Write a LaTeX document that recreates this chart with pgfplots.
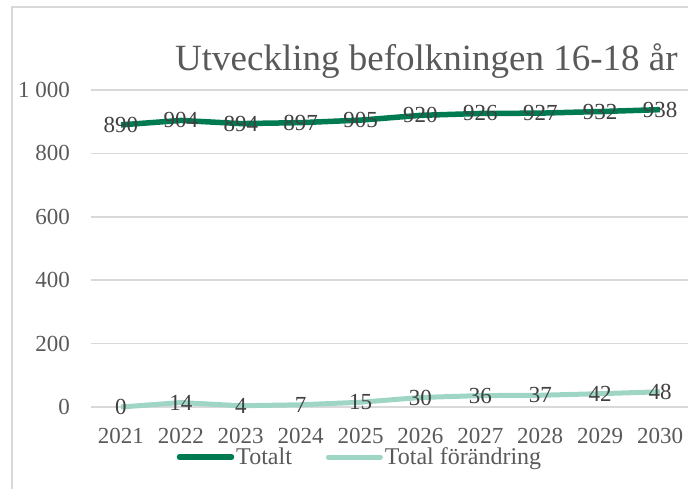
\documentclass[border=0pt]{standalone}
\usepackage{pgfplots}
\pgfplotsset{compat=1.18}
\usepackage{fontspec}
\setmainfont{Liberation Serif}
\definecolor{darkgreen}{RGB}{0,122,80}
\definecolor{lightgreen}{RGB}{158,213,197}
\definecolor{txtgray}{RGB}{89,89,89}
\definecolor{lblgray}{RGB}{64,64,64}
\definecolor{gridgray}{RGB}{217,217,217}
\begin{document}
\begin{tikzpicture}
\useasboundingbox (0pt,0pt) rectangle (688pt,488pt);
% chart frame (right and bottom edges lie outside the picture)
\draw[gridgray, line width=1.5pt] (12pt,-5pt) -- (12pt,481pt) -- (700pt,481pt);
\node[anchor=base west, text=txtgray, font=\fontsize{37}{44}\selectfont, inner sep=0pt]
  at (175pt,417pt) {Utveckling befolkningen 16-18 år};
\begin{axis}[
  at={(91pt,81pt)}, anchor=south west,
  scale only axis, width=599pt, height=317pt,
  xmin=2020.5, xmax=2030.5, ymin=0, ymax=1000,
  xtick={2021,...,2030},
  xticklabels={2021,2022,2023,2024,2025,2026,2027,2028,2029,2030},
  ytick={0,200,400,600,800,1000},
  yticklabels={0,200,400,600,800,1 000},
  /pgf/number format/assume math mode=true,
  axis line style={draw=none},
  tick style={draw=none},
  ymajorgrids,
  major grid style={gridgray, line width=1.5pt},
  ticklabel style={font=\fontsize{23}{27}\selectfont, text=txtgray, inner sep=0pt},
  yticklabel style={anchor=east, xshift=-21pt},
  xticklabel style={anchor=north, yshift=-21pt},
  clip=false,
  nodes near coords,
  every node near coord/.append style={anchor=center, font=\fontsize{23}{27}\selectfont, text=lblgray, inner sep=0pt},
  legend columns=2,
  legend style={at={(0.449,-0.158)}, anchor=center, draw=none, fill=none,
    font=\fontsize{24}{27}\selectfont, text=txtgray,
    /tikz/every even column/.append style={column sep=32pt},
    nodes={inner sep=2pt}},
  legend image code/.code={\draw[#1, line cap=round] (0pt,0pt) -- (52pt,0pt);},
]
\addplot[darkgreen, line width=5.5pt, line join=round] coordinates {
  (2021,890) (2022,904) (2023,894) (2024,897) (2025,905)
  (2026,920) (2027,926) (2028,927) (2029,932) (2030,938)
};
\addplot[lightgreen, line width=5pt, line join=round] coordinates {
  (2021,0) (2022,14) (2023,4) (2024,7) (2025,15)
  (2026,30) (2027,36) (2028,37) (2029,42) (2030,48)
};
\legend{Totalt, Total förändring}
\end{axis}
\end{tikzpicture}
\end{document}
